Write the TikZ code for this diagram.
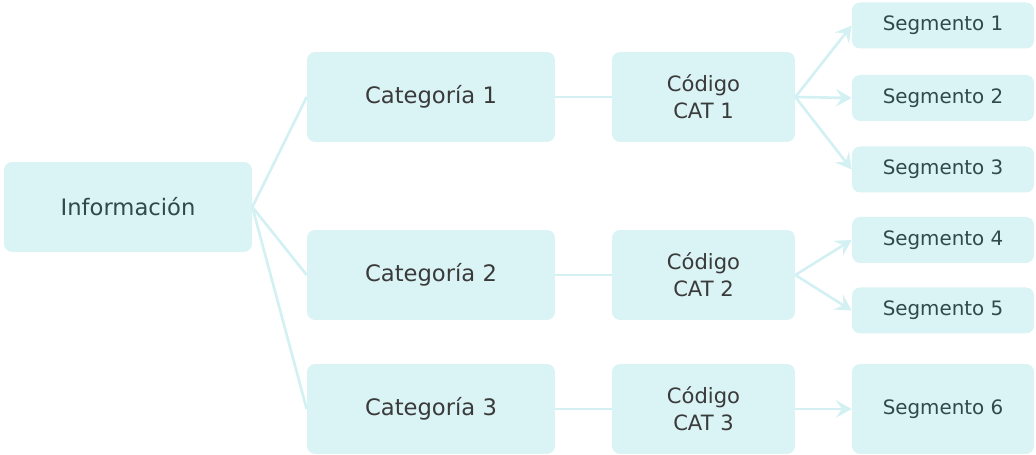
\documentclass[tikz,border=0pt]{standalone}
\usepackage{fontspec}
\setsansfont{DejaVu Sans}
\usepackage{tikz}
\usetikzlibrary{arrows.meta}
\definecolor{boxfill}{HTML}{DAF3F5}
\definecolor{linkcol}{HTML}{D3F0F3}
\definecolor{txtgray}{HTML}{3A3A3A}
\definecolor{txtteal}{HTML}{2F4A4A}
\tikzset{>={Stealth[length=9pt,width=10pt,inset=3.5pt]}}
\tikzset{
  box/.style={fill=boxfill, rounded corners=0.16cm, inner sep=0pt,
    text=txtgray, align=center, font=\sffamily\fontsize{12.9}{15}\selectfont},
  bigbox/.style={box, minimum width=4.96cm, minimum height=1.8cm},
  codebox/.style={box, minimum width=3.66cm, minimum height=1.8cm,
    font=\sffamily\fontsize{12}{15.5}\selectfont},
  segbox/.style={box, minimum width=3.64cm, minimum height=0.92cm,
    text=txtteal, font=\sffamily\fontsize{11.3}{13}\selectfont},
  link/.style={draw=linkcol, line width=1.5pt}
}

\begin{document}
\begin{tikzpicture}[x=0.02cm, y=-0.02cm]
    \useasboundingbox (0, 0) rectangle (1036, 455);
    % left column
    \node[bigbox, text=txtteal] (info) at (128, 207) {Información};
    \node[bigbox] (cat1) at (431, 97) {Categoría 1};
    \node[bigbox] (cat2) at (431, 275) {Categoría 2};
    \node[bigbox] (cat3) at (431, 409) {Categoría 3};
    % codes
    \node[codebox] (cod1) at (703.5, 97) {Código\\CAT 1};
    \node[codebox] (cod2) at (703.5, 275) {Código\\CAT 2};
    \node[codebox] (cod3) at (703.5, 409) {Código\\CAT 3};
    % segments
    \node[segbox] (seg1) at (943, 25.5) {Segmento 1};
    \node[segbox] (seg2) at (943, 98) {Segmento 2};
    \node[segbox] (seg3) at (943, 169.5) {Segmento 3};
    \node[segbox] (seg4) at (943, 240) {Segmento 4};
    \node[segbox] (seg5) at (943, 310.5) {Segmento 5};
    \node[segbox, minimum height=1.8cm] (seg6) at (943, 409) {Segmento 6};
    % links
    \foreach \c in {cat1, cat2, cat3}
      \draw[link] (info.east) -- (\c.west);
    \foreach \i in {1, 2, 3}
      \draw[link] (cat\i.east) -- (cod\i.west);
    \foreach \s in {seg1, seg2, seg3}
      \draw[link, ->] (cod1.east) -- (\s.west);
    \foreach \s in {seg4, seg5}
      \draw[link, ->] (cod2.east) -- (\s.west);
    \draw[link, ->] (cod3.east) -- (seg6.west);
\end{tikzpicture}
\end{document}
